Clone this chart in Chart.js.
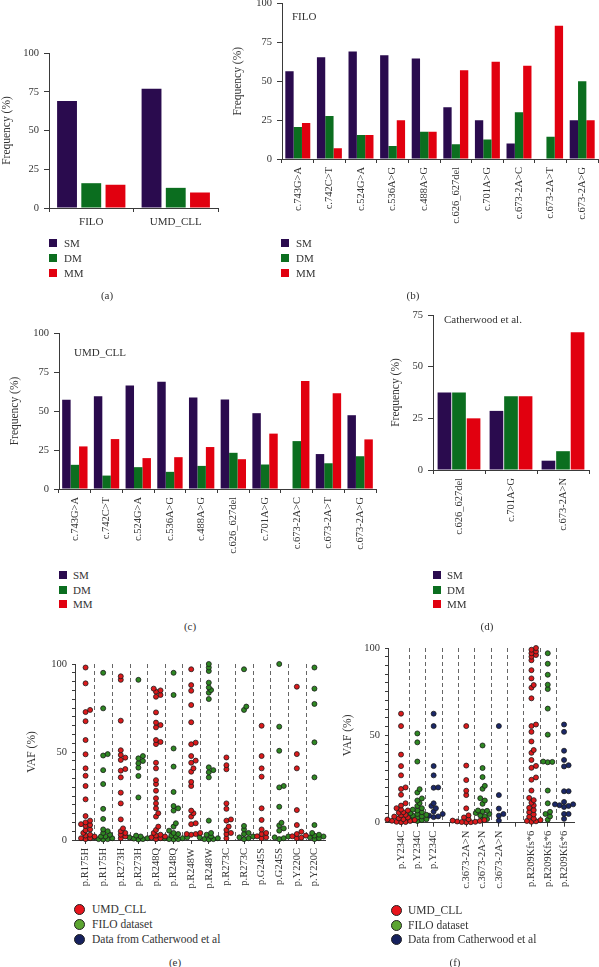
<!DOCTYPE html>
<html><head><meta charset="utf-8">
<script src="https://cdn.jsdelivr.net/npm/chart.js@4.4.1/dist/chart.umd.min.js"></script>
<style>
html,body{margin:0;padding:0;background:#fff;}
body{position:relative;width:599px;height:967px;overflow:hidden;font-family:'Liberation Serif','DejaVu Serif','Times New Roman',serif;color:#333;}
.t{position:absolute;white-space:nowrap;font-size:11px;line-height:14px;height:14px;}
.sq{position:absolute;width:8px;height:8px;}
.dot{position:absolute;width:9px;height:9px;border-radius:50%;border:1px solid #222;}
canvas{position:absolute;}
</style></head><body>
<script>
// ---------------- DATA ----------------
const aCategories = ['FILO', 'UMD_CLL'];
const aSM = [69, 77];
const aDM = [16, 13];
const aMM = [15, 10];

const bCategories = ['c.743G>A','c.742C>T','c.524G>A','c.536A>G','c.488A>G','c.626_627del','c.701A>G','c.673-2A>C','c.673-2A>T','c.673-2A>G'];
const bSM = [56.4, 65.5, 69.2, 66.7, 64.7, 33.3, 25, 10, 0, 25];
const bDM = [20.5, 27.6, 15.4, 8.3, 17.6, 9.5, 12.5, 30, 14.3, 50];
const bMM = [23.1, 6.9, 15.4, 25, 17.6, 57.1, 62.5, 60, 85.7, 25];

const cCategories = ['c.743G>A','c.742C>T','c.524G>A','c.536A>G','c.488A>G','c.626_627del','c.701A>G','c.673-2A>C','c.673-2A>T','c.673-2A>G'];
const cSM = [57.2, 59.5, 66.4, 68.8, 58.7, 57.4, 48.6, 0, 22.4, 47.3];
const cDM = [15.5, 8.6, 14, 11, 14.8, 23.2, 15.7, 30.7, 16.5, 21];
const cMM = [27.3, 32, 19.8, 20.4, 26.9, 19.1, 35.5, 69.2, 61.3, 31.8];

const dCategories = ['c.626_627del', 'c.701A>G', 'c.673-2A>N'];
const dSM = [37.5, 28.6, 4.5];
const dDM = [37.5, 35.7, 9.1];
const dMM = [25, 35.7, 66.7];

const barTicks = [0, 25, 50, 75, 100];
const vafTicks = [0, 50, 100];

// panel (e) columns
const eCategories = ['p.R175H','p.R175H','p.R273H','p.R273H','p.R248Q','p.R248Q','p.R248W','p.R248W','p.R273C','p.R273C','p.G245S','p.G245S','p.Y220C','p.Y220C'];
const eSources = ['UMD','FILO','UMD','FILO','UMD','FILO','UMD','FILO','UMD','FILO','UMD','FILO','UMD','FILO'];
const eR175H_UMD = [98, 89, 73.9, 72.7, 67.5, 56.8, 48.7, 40.7, 36.5, 30.7, 23.1, 13.6, 11, 10, 9, 8.5, 8, 6, 5.5, 4, 3, 2.5, 2, 1, 1, 0.5];
const eR175H_FILO = [95, 74.8, 48.8, 48, 39.7, 31.8, 17.7, 12, 6, 5, 4, 3, 2, 2, 1.5, 1, 0.5, 0.5, 0.3];
const eR273H_UMD = [93, 91, 67.8, 51, 48.3, 46.8, 45.5, 40.3, 39.4, 35.6, 26.9, 20.8, 11.7, 6.6, 5, 4, 3, 2, 1];
const eR273H_FILO = [91, 47.7, 46.4, 44.9, 43.6, 41.1, 36.4, 24.2, 2.5, 2, 1.5, 1, 0.8, 0.5, 0.3];
const eR248Q_UMD = [86, 85, 84.3, 82.4, 81.4, 72.5, 66.7, 65.3, 64, 56.8, 55.7, 54.5, 43.9, 40.7, 34, 31.8, 28, 23.7, 20.8, 18, 15.2, 13.3, 7.6, 5.7, 4, 3, 2.5, 2, 1.5, 1, 0.5];
const eR248Q_FILO = [95, 82.4, 52, 41.7, 27.3, 19.3, 18, 16.7, 9.5, 7.6, 5.3, 4, 3.4, 2.5, 2, 1.5, 1, 1, 0.5, 0.5, 0.3];
const eR248W_UMD = [97, 88, 84.8, 76.7, 66.9, 55.3, 54.4, 47.7, 45.1, 43.9, 40.7, 38.8, 33, 30.7, 16.7, 15.2, 13.3, 9.5, 9, 4, 3.4, 3.4, 3];
const eR248W_FILO = [100, 98, 96, 89.4, 86.7, 85.2, 83.7, 80.1, 41.3, 39.7, 38.5, 35.6, 11, 4, 3, 2, 1.5, 1, 0.5, 0.5, 0.3];
const eR273C_UMD = [46.9, 42.5, 40.2, 20.8, 17.7, 11.7, 11, 7.6, 5.7, 4, 3.4, 1];
const eR273C_FILO = [97, 75.8, 73.9, 8, 6, 4, 3.4, 2, 1.5, 1, 0.5];
const eG245S_UMD = [64.9, 47.7, 40.7, 36, 18, 11.4, 6, 4, 3.4, 2.1, 1.5, 1];
const eG245S_FILO = [100, 64.4, 50.7, 30.7, 29.9, 18.9, 9.8, 8.3, 6.6, 5.3, 2, 1.5, 1, 0.5];
const eY220C_UMD = [87.1, 48.8, 40.7, 17, 8.5, 4.7, 3.4, 2.5, 2.1, 1.3, 1];
const eY220C_FILO = [98, 86, 77.3, 55.5, 35.6, 8.5, 4, 3, 2.5, 2, 1.5, 1, 0.5];
const eColumns = [eR175H_UMD, eR175H_FILO, eR273H_UMD, eR273H_FILO, eR248Q_UMD, eR248Q_FILO, eR248W_UMD, eR248W_FILO, eR273C_UMD, eR273C_FILO, eG245S_UMD, eG245S_FILO, eY220C_UMD, eY220C_FILO];

// panel (f) columns ('' = empty spacer slot)
const fCategories = ['p.Y234C','p.Y234C','p.Y234C','','c.3673-2A>N','c.3673-2A>N','c.3673-2A>N','','p.R209Kfs*6','p.R209Kfs*6','p.R209Kfs*6'];
const fSources = ['UMD','FILO','CATH','','UMD','FILO','CATH','','UMD','FILO','CATH'];
const fY234C_UMD = [62.4, 55.3, 39, 32.4, 27.1, 20.2, 19.3, 16, 11.1, 9.8, 8.3, 7.5, 7, 6, 5.7, 4.5, 4.2, 3.5, 3, 2.5, 2, 1.8, 1.5, 1.1, 1, 0.5, 0.4, 0.3];
const fY234C_FILO = [51.1, 46, 35, 19.2, 17.3, 13.9, 12.7, 11.2, 9.6, 8.3, 7.5, 7, 6, 5.5, 5, 4.5, 4, 3.6, 3, 2.5, 2, 1.7, 1.5, 1];
const fY234C_CATH = [62.4, 55.3, 32.4, 27.1, 20.2, 20, 11.1, 9.6, 8.3, 6.4, 5, 4, 3.6, 3.2];
const fC3673_UMD = [55.3, 32.7, 24.4, 18.3, 15.8, 8.2, 4.2, 3, 2, 1.5, 1.2, 1, 0.7, 0.5, 0.4, 0.3, 0.2];
const fC3673_FILO = [44.2, 31.3, 26.1, 21.1, 19.4, 14, 12.7, 10.8, 7, 6.8, 6.4, 5.5, 5, 4.2, 3.6, 2.1, 1.8];
const fC3673_CATH = [55.3, 15.8, 8.1, 5, 4, 1.2];
const fR209_UMD = [100, 99, 98, 97, 96, 95, 93, 87.3, 82.6, 78.8, 77.3, 71.2, 56.2, 55.3, 52, 46.5, 41.6, 40, 35.9, 32.5, 31.4, 25.9, 24.6, 18.4, 14.2, 12.9, 11.4, 9.9, 8.5, 7.2, 6, 4.7, 3.4, 2.3, 1.5, 1, 0.8, 0.5];
const fR209_FILO = [97, 91, 84.7, 79, 76.5, 65.3, 50.4, 35, 34.8, 34.6, 18.4, 11.1, 6.2, 5, 3.6, 1.7];
const fR209_CATH = [56.2, 52, 41.2, 35.9, 32.9, 32.2, 18, 18, 11.9, 10.5, 10.5, 10, 9.6, 9, 5, 5, 2.2];
const fColumns = [fY234C_UMD, fY234C_FILO, fY234C_CATH, [], fC3673_UMD, fC3673_FILO, fC3673_CATH, [], fR209_UMD, fR209_FILO, fR209_CATH];

const sourceNames = {UMD: 'UMD_CLL', FILO: 'FILO dataset', CATH: 'Data from Catherwood et al'};

// ---------------- STYLE ----------------
const SERIF = "'Liberation Serif','DejaVu Serif','Times New Roman',serif";
const AX = '#3a3a3a', TX = '#333';
const BAR = {SM: '#2a0b4e', DM: '#0b6e1f', MM: '#e1000f'};
const PT = {UMD: '#dc1a1c', FILO: '#2e8722', CATH: '#1b2868'};
const LEG = {UMD: '#e8141c', FILO: '#5ca531', CATH: '#16215e'};
Chart.defaults.font.family = SERIF;
Chart.defaults.color = TX;

function mkCanvas(g) {
  const cv = document.createElement('canvas');
  cv.width = g.cw; cv.height = g.ch;
  cv.style.left = g.cx + 'px'; cv.style.top = g.cy + 'px';
  cv.style.width = g.cw + 'px'; cv.style.height = g.ch + 'px';
  document.body.appendChild(cv);
  return cv;
}
function text(str, x, yc, opts) {
  const d = document.createElement('div');
  d.className = 't'; d.textContent = str;
  d.style.top = (yc - 7) + 'px';
  if (opts && opts.center) { d.style.left = (x - 50) + 'px'; d.style.width = '100px'; d.style.textAlign = 'center'; }
  else d.style.left = x + 'px';
  if (opts && opts.size) d.style.fontSize = opts.size + 'px';
  document.body.appendChild(d);
}
function squareLegend(x, ys, tx) {
  ['SM','DM','MM'].forEach((k, i) => {
    const s = document.createElement('div'); s.className = 'sq';
    s.style.left = x + 'px'; s.style.top = (ys[i] - 4) + 'px'; s.style.background = BAR[k];
    document.body.appendChild(s);
    text(k, tx, ys[i]);
  });
}
function dotLegend(x, ys, tx, keys) {
  keys.forEach((k, i) => {
    const s = document.createElement('div'); s.className = 'dot';
    s.style.left = (x - 5) + 'px'; s.style.top = (ys[i] - 5) + 'px'; s.style.background = LEG[k];
    document.body.appendChild(s);
    text(sourceNames[k], tx, ys[i], {size: 11.5});
  });
}

function barChart(g, cats, sm, dm, mm, o) {
  const cv = mkCanvas(g);
  return new Chart(cv, {
    type: 'bar',
    data: {labels: cats, datasets: [
      {label: 'SM', data: sm, backgroundColor: BAR.SM},
      {label: 'DM', data: dm, backgroundColor: BAR.DM},
      {label: 'MM', data: mm, backgroundColor: BAR.MM}]},
    options: {
      responsive: false, animation: false, events: [],
      datasets: {bar: {categoryPercentage: o.cat, barPercentage: o.bar}},
      layout: {padding: {top: g.T - g.cy, right: g.cx + g.cw - g.R, left: 0, bottom: 0}},
      plugins: {legend: {display: false}, tooltip: {enabled: false}},
      scales: {
        x: {
          grid: {display: true, drawOnChartArea: false, drawTicks: true, tickLength: 4, color: AX, offset: true},
          border: {color: AX, width: 1},
          ticks: {font: {size: o.xfs}, color: TX, padding: o.xpad, minRotation: o.rot, maxRotation: o.rot, autoSkip: false},
          afterFit: s => { s.height = g.cy + g.ch - g.B; }
        },
        y: {
          min: 0, max: o.max,
          afterBuildTicks: s => { s.ticks = barTicks.filter(v => v <= o.max).map(v => ({value: v})); },
          ticks: {font: {size: 10.5}, color: TX, padding: 5},
          grid: {drawOnChartArea: false, tickLength: 5, color: AX},
          border: {color: AX, width: 1},
          title: {display: true, text: 'Frequency (%)', font: {size: 11.5}, color: TX, padding: {top: o.tpad, bottom: 0}},
          afterFit: s => { s.width = g.L - g.cx; }
        }
      }
    }
  });
}

// beeswarm offsets computed from the values (pixel-space collision avoidance)
function swarm(vals, col, pxY, pxX, d) {
  const placed = [], pts = [];
  [...vals].sort((a, b) => a - b).forEach(v => {
    const y = v * pxY;
    let dx = 0;
    for (let k = 0; k < 80; k++) {
      const c = k === 0 ? 0 : (k % 2 ? 1 : -1) * Math.ceil(k / 2) * d * 0.42;
      if (placed.every(p => Math.hypot(p.x - c, p.y - y) >= d * 0.62)) { dx = c; break; }
    }
    placed.push({x: dx, y});
    pts.push({x: col + dx / pxX, y: v});
  });
  return pts;
}

const dashPlugin = {
  id: 'sepDash',
  beforeDatasetsDraw(chart, args, opts) {
    const {ctx, chartArea} = chart; const xs = chart.scales.x;
    ctx.save(); ctx.setLineDash([4, 3]); ctx.strokeStyle = '#555'; ctx.lineWidth = 0.9;
    (opts.positions || []).forEach(p => {
      const x = Math.round(xs.getPixelForValue(p)) + 0.5;
      ctx.beginPath(); ctx.moveTo(x, chartArea.top); ctx.lineTo(x, chartArea.bottom); ctx.stroke();
    });
    ctx.restore();
  }
};

function vafChart(g, cats, sources, columns, xmin, xmax, keys, tpad) {
  const cv = mkCanvas(g);
  const pxY = (g.B - g.T) / 100, pxX = (g.R - g.L) / (xmax - xmin);
  const datasets = keys.map(k => {
    let data = [];
    columns.forEach((vals, i) => { if (sources[i] === k) data = data.concat(swarm(vals, i, pxY, pxX, 5.4)); });
    return {label: sourceNames[k], data, backgroundColor: PT[k], borderColor: '#1a1a1a', borderWidth: 0.8, pointRadius: 2.5, clip: false};
  });
  const seps = []; for (let i = 0; i < cats.length - 1; i++) seps.push(i + 0.5);
  return new Chart(cv, {
    type: 'scatter',
    data: {datasets},
    plugins: [dashPlugin],
    options: {
      responsive: false, animation: false, events: [],
      layout: {padding: {top: g.T - g.cy, right: g.cx + g.cw - g.R, left: 0, bottom: 0}},
      plugins: {legend: {display: false}, tooltip: {enabled: false}, sepDash: {positions: seps}},
      scales: {
        x: {
          type: 'linear', min: xmin, max: xmax,
          afterBuildTicks: s => { s.ticks = cats.map((c, i) => ({value: i})); },
          ticks: {callback: (v, i) => cats[i], font: {size: 10.5}, color: TX, padding: 4, minRotation: 90, maxRotation: 90, autoSkip: false},
          grid: {drawOnChartArea: false, tickLength: 4, color: AX},
          border: {color: AX, width: 1},
          afterFit: s => { s.height = g.cy + g.ch - g.B; }
        },
        y: {
          min: 0, max: 100,
          afterBuildTicks: s => { const t = []; for (let v = 0; v <= 100; v += 5) t.push({value: v}); s.ticks = t; },
          ticks: {callback: v => vafTicks.includes(v) ? String(v) : '', font: {size: 10.5}, color: TX, padding: 5, autoSkip: false},
          grid: {drawOnChartArea: false, tickLength: 3, color: AX},
          border: {color: AX, width: 1},
          title: {display: true, text: 'VAF (%)', font: {size: 11.5}, color: TX, padding: {top: tpad, bottom: 0}},
          afterFit: s => { s.width = g.L - g.cx; }
        }
      }
    }
  });
}

// ---------------- PANELS ----------------
// (a)
barChart({cx: 0, cy: 40, cw: 230, ch: 200, L: 49, T: 53, R: 218, B: 208}, aCategories, aSM, aDM, aMM,
  {cat: 0.86, bar: 0.82, max: 100, rot: 0, xfs: 11, xpad: 4, tpad: 0});
squareLegend(49, [243, 258, 273], 64);
text('(a)', 107, 295, {center: true});

// (b)
barChart({cx: 230, cy: -12, cw: 369, ch: 252, L: 282, T: 3.5, R: 598, B: 159}, bCategories, bSM, bDM, bMM,
  {cat: 0.79, bar: 1.0, max: 100, rot: 90, xfs: 10.5, xpad: 4, tpad: 1});
text('FILO', 292, 16);
squareLegend(281, [243, 258, 273], 296);
text('(b)', 413, 295, {center: true});

// (c)
barChart({cx: 0, cy: 318, cw: 390, ch: 242, L: 59, T: 333, R: 376, B: 489}, cCategories, cSM, cDM, cMM,
  {cat: 0.8, bar: 1.0, max: 100, rot: 90, xfs: 10.5, xpad: 4, tpad: 8});
text('UMD_CLL', 74, 352);
squareLegend(59, [575, 589.5, 604], 73);
text('(c)', 190, 626, {center: true});

// (d)
barChart({cx: 385, cy: 300, cw: 214, ch: 260, L: 433, T: 315, R: 589, B: 470}, dCategories, dSM, dDM, dMM,
  {cat: 0.84, bar: 0.94, max: 75, rot: 90, xfs: 10.5, xpad: 4, tpad: 4});
text('Catherwood et al.', 444, 319);
squareLegend(433, [575, 589.5, 604], 447);
text('(d)', 487, 626, {center: true});

// (e)
vafChart({cx: 0, cy: 650, cw: 335, ch: 250, L: 75, T: 664, R: 325, B: 840}, eCategories, eSources, eColumns, -0.6, 13.6, ['UMD', 'FILO'], 25);
dotLegend(79, [909, 924, 939], 92, ['UMD', 'FILO', 'CATH']);
text('(e)', 175, 962, {center: true});

// (f)
vafChart({cx: 335, cy: 634, cw: 264, ch: 276, L: 388, T: 648, R: 574, B: 822.7}, fCategories, fSources, fColumns, -0.8, 10.61, ['UMD', 'FILO', 'CATH'], 6);
dotLegend(396, [910, 925, 939], 408, ['UMD', 'FILO', 'CATH']);
text('(f)', 455, 962, {center: true});
</script>
</body></html>
